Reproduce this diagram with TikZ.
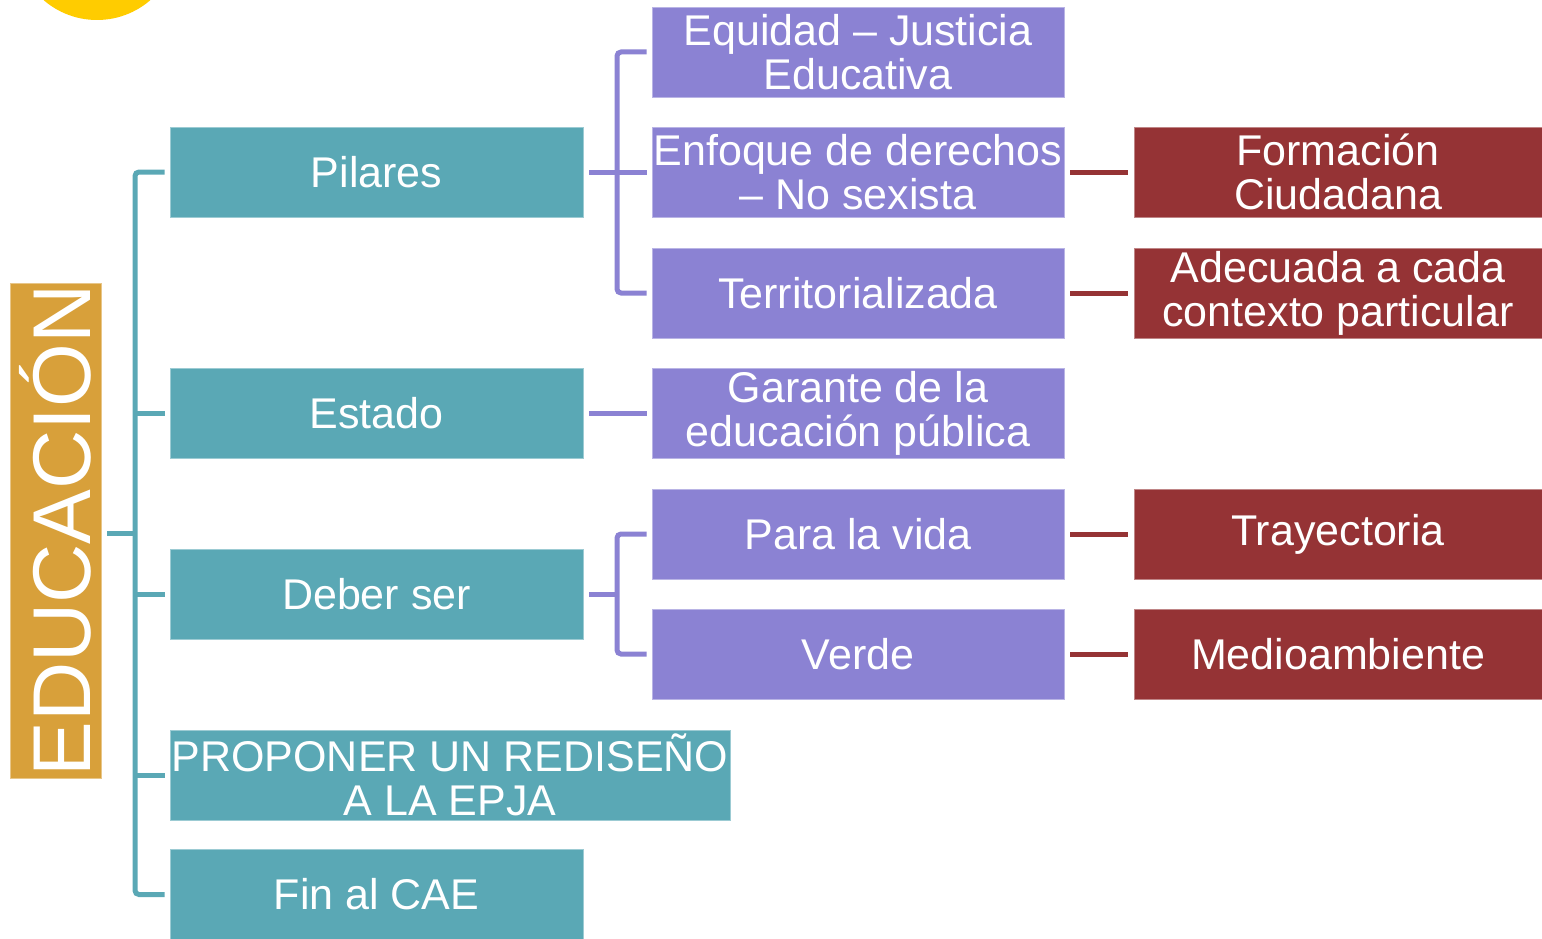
\documentclass[tikz,border=0pt]{standalone}
\usepackage{fontspec}
\setmainfont{Liberation Sans}
\usetikzlibrary{calc}
\definecolor{tealc}{HTML}{5AA8B5}
\definecolor{purc}{HTML}{8B82D3}
\definecolor{redc}{HTML}{953335}
\definecolor{goldc}{HTML}{D8A03A}
\definecolor{yelc}{HTML}{FFCC00}
\tikzset{
  box/.style={minimum height=90, inner sep=0pt, align=center, text=white,
    font=\fontsize{43}{44}\selectfont, line width=0.8pt},
  tbox/.style={box, fill=tealc, draw=tealc!60!white, minimum width=413},
  pbox/.style={box, fill=purc, draw=purc!60!white, minimum width=412},
  rbox/.style={box, fill=redc, draw=redc!60!white, minimum width=408},
  tl/.style={draw=tealc, line width=5pt, rounded corners=4pt},
  pl/.style={draw=purc, line width=5pt, rounded corners=4pt},
  rl/.style={draw=redc, line width=5pt},
}
\begin{document}
\begin{tikzpicture}[x=1pt,y=-1pt]
\useasboundingbox (0,0) rectangle (1542,939);
\fill[yelc] (97,-61.6) circle (81.6);
% root
\node[fill=goldc, draw=goldc!60!white, line width=0.8pt, minimum width=91, minimum height=495, inner sep=0pt] (edu) at (55.5,530.5) {};
\node[rotate=90, text=white, inner sep=0pt, font=\fontsize{82}{82}\selectfont] (edutxt) at (edu.center) {EDUCACIÓN};
% teal level
\node[tbox] (pil) at (376.5,172) {Pilares};
\node[tbox] (est) at (376.5,413) {Estado};
\node[tbox] (deb) at (376.5,594) {Deber ser};
\node[tbox, minimum width=560] (pro) at (450,775) {PROPONER UN REDISEÑO\\A LA EPJA};
\node[tbox] (fin) at (376.5,894.5) {Fin al CAE};
% purple level
\node[pbox] (equ) at (858,52) {Equidad – Justicia\\Educativa};
\node[pbox] (enf) at (858,172) {Enfoque de derechos\\– No sexista};
\node[pbox] (ter) at (858,293) {Territorializada};
\node[pbox] (gar) at (858,413) {Garante de la\\educación pública};
\node[pbox] (vid) at (858,534) {Para la vida};
\node[pbox] (ver) at (858,654) {Verde};
% red level
\node[rbox] (for) at (1338,172) {Formación\\Ciudadana};
\node[rbox] (ade) at (1338,293) {Adecuada a cada\\contexto particular};
\node[rbox] (tra) at (1338,534) {Trayectoria};
\node[rbox] (med) at (1338,654) {Medioambiente};
% trunk coordinates
\coordinate (tk) at (135,533);
\coordinate (pk1) at (617,172);
\coordinate (pk2) at (617,594);
% teal connectors
\draw[tl] ([xshift=6pt]edu.east |- tk) -- (tk);
\draw[tl] ([xshift=-5pt]pil.west) -- (pil.west -| tk) -- (fin.west -| tk) -- ([xshift=-5pt]fin.west);
\draw[tl] ([xshift=-5pt]est.west) -- (est.west -| tk);
\draw[tl] ([xshift=-5pt]deb.west) -- (deb.west -| tk);
\draw[tl] ([xshift=-5pt]pro.west) -- (pro.west -| tk);
% purple connectors
\draw[pl] ([xshift=6pt]pil.east) -- ([xshift=-5pt]enf.west);
\draw[pl] ([xshift=-5pt]equ.west) -- (equ.west -| pk1) -- (ter.west -| pk1) -- ([xshift=-5pt]ter.west);
\draw[pl] ([xshift=6pt]est.east) -- ([xshift=-5pt]gar.west);
\draw[pl] ([xshift=6pt]deb.east) -- (pk2);
\draw[pl] ([xshift=-5pt]vid.west) -- (vid.west -| pk2) -- (ver.west -| pk2) -- ([xshift=-5pt]ver.west);
% red connectors
\draw[rl] ([xshift=6pt]enf.east) -- ([xshift=-6pt]for.west);
\draw[rl] ([xshift=6pt]ter.east) -- ([xshift=-6pt]ade.west);
\draw[rl] ([xshift=6pt]vid.east) -- ([xshift=-6pt]tra.west);
\draw[rl] ([xshift=6pt]ver.east) -- ([xshift=-6pt]med.west);
\end{tikzpicture}
\end{document}
